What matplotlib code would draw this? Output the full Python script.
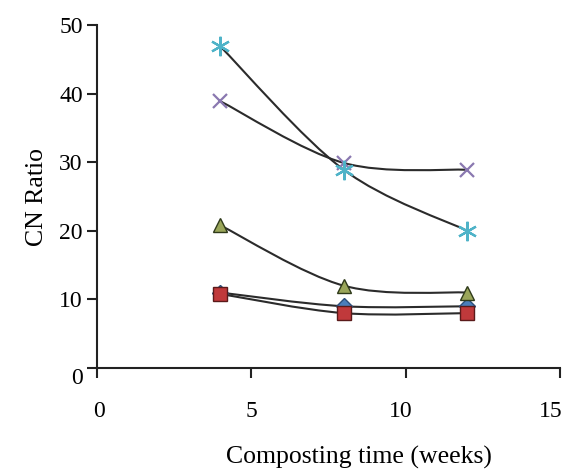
import numpy as np
import matplotlib
matplotlib.use("Agg")
import matplotlib.pyplot as plt
import matplotlib.transforms as mtransforms
from matplotlib.path import Path
from matplotlib.patches import PathPatch

weeks = [4, 8, 12]
series_diamond = [11, 9, 9]
series_square = [10.8, 8, 8]
series_triangle = [20.8, 12, 11]
series_x = [38.9, 29.9, 28.9]
series_star = [46.9, 28.9, 20]
x_ticks = [0, 5, 10, 15]
y_ticks = [0, 10, 20, 30, 40, 50]

plt.rcParams['font.family'] = ['Liberation Serif', 'DejaVu Serif']

fig = plt.figure(figsize=(5.69, 4.73), dpi=100)
ax = fig.add_axes([0.170, 0.222, 0.814, 0.725])


def smooth_line(ax, xs, ys, **kw):
    xs = np.asarray(xs, float)
    ys = np.asarray(ys, float)
    n = len(xs)
    verts = [(xs[0], ys[0])]
    codes = [Path.MOVETO]
    t = 1.0 / 6.0
    for i in range(n - 1):
        p0 = i - 1 if i > 0 else i
        p3 = i + 2 if i + 2 < n else i + 1
        c1 = (xs[i] + (xs[i + 1] - xs[p0]) * t, ys[i] + (ys[i + 1] - ys[p0]) * t)
        c2 = (xs[i + 1] - (xs[p3] - xs[i]) * t, ys[i + 1] - (ys[p3] - ys[i]) * t)
        verts += [c1, c2, (xs[i + 1], ys[i + 1])]
        codes += [Path.CURVE4] * 3
    ax.add_patch(PathPatch(Path(verts, codes), fill=False, **kw))


line_kw = dict(edgecolor='#2b2b2b', linewidth=1.5, zorder=2)
for ys in [series_diamond, series_square, series_triangle, series_x, series_star]:
    smooth_line(ax, weeks, ys, **line_kw)

ax.plot(weeks, series_diamond, linestyle='none', marker='D', markersize=8,
        markerfacecolor='#4a7ebb', markeredgecolor='#2d4f7a', zorder=3)
ax.plot(weeks, series_square, linestyle='none', marker='s', markersize=10,
        markerfacecolor='#c0393b', markeredgecolor='#5a1a1a', zorder=4)
ax.plot(weeks, series_triangle, linestyle='none', marker='^', markersize=10,
        markerfacecolor='#9aa65a', markeredgecolor='#2f3a1a', zorder=4)
ax.plot(weeks, series_x, linestyle='none', marker='x', markersize=10,
        markeredgewidth=1.6, color='#8a78b0', zorder=4)
ax.plot(weeks, series_star, linestyle='none', marker=(6, 2, 0), markersize=14,
        markeredgewidth=1.6, color='#4fb3c8', zorder=4)

ax.set_xlim(0, 15)
ax.set_ylim(0, 50)
ax.set_xticks(x_ticks)
ax.set_yticks(y_ticks)
ax.spines['top'].set_visible(False)
ax.spines['right'].set_visible(False)
for s in ['left', 'bottom']:
    ax.spines[s].set_linewidth(1.5)
    ax.spines[s].set_color('#222222')
ax.tick_params(axis='both', direction='out', length=7, width=1.5, color='#222222',
               labelsize=17)
ax.tick_params(axis='x', pad=17)
ax.tick_params(axis='y', pad=3)
ax.set_xlabel('Composting time (weeks)', fontsize=18.5)
ax.xaxis.set_label_coords(0.566, -0.226)
ax.set_ylabel('CN Ratio', fontsize=18.5, labelpad=8)

fig.canvas.draw()


def shift(lbl, dx_px, dy_px):
    lbl.set_transform(lbl.get_transform() +
                      mtransforms.ScaledTranslation(dx_px / 100, dy_px / 100,
                                                    fig.dpi_scale_trans))


shift(ax.get_yticklabels()[0], 0, -8)
xl = ax.get_xticklabels()
shift(xl[0], 2, 0)
shift(xl[2], -5, 0)
shift(xl[3], -9, 0)

fig.savefig('out.png', dpi=100)
